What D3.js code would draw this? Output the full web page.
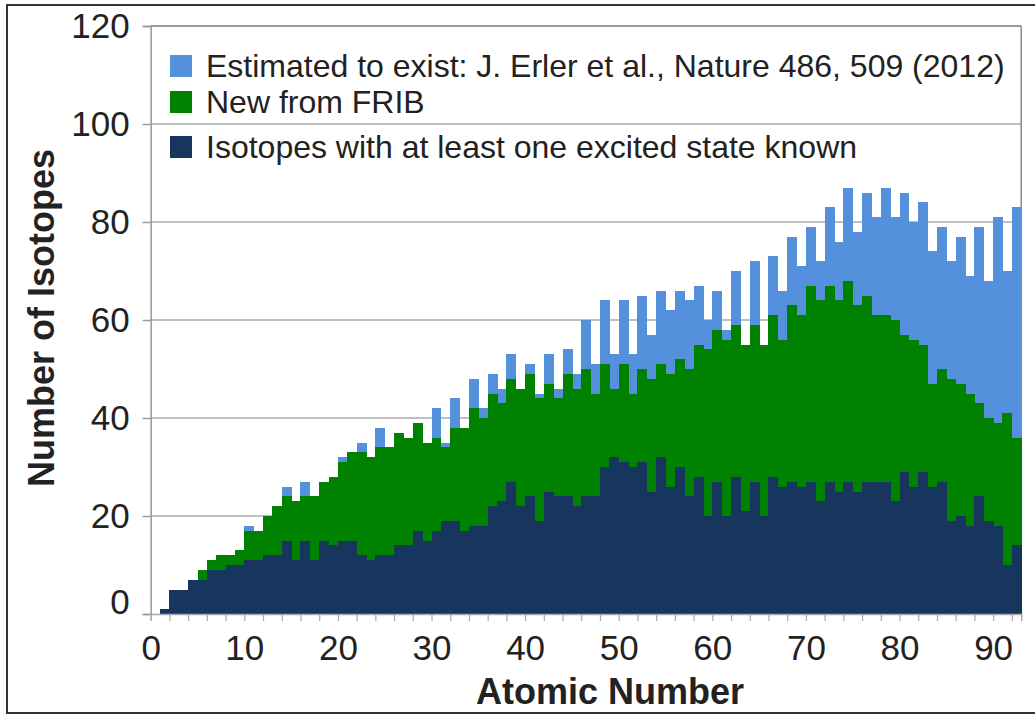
<!DOCTYPE html>
<html>
<head>
<meta charset="utf-8">
<script src="https://cdn.jsdelivr.net/npm/d3@7"></script>
<style>
	body { margin: 0; background: #fff; }
	text { font-family: "Liberation Sans", Arial, sans-serif; fill: #222; }
</style>
</head>
<body>
<div id="chart"></div>
<script>
// atomic numbers Z = 1..92
var atomicNumbers = [1, 2, 3, 4, 5, 6, 7, 8, 9, 10, 11, 12, 13, 14, 15, 16, 17, 18, 19, 20,
	21, 22, 23, 24, 25, 26, 27, 28, 29, 30, 31, 32, 33, 34, 35, 36, 37, 38, 39, 40,
	41, 42, 43, 44, 45, 46, 47, 48, 49, 50, 51, 52, 53, 54, 55, 56, 57, 58, 59, 60,
	61, 62, 63, 64, 65, 66, 67, 68, 69, 70, 71, 72, 73, 74, 75, 76, 77, 78, 79, 80,
	81, 82, 83, 84, 85, 86, 87, 88, 89, 90, 91, 92];

var estimated = [1, 5, 5, 7, 9, 11, 12, 12, 13, 18, 17, 20, 22, 26, 23, 27, 24, 27, 28, 32,
	33, 35, 32, 38, 34, 37, 36, 39, 35, 42, 35, 44, 38, 48, 42, 49, 46, 53, 46, 51,
	45, 53, 46, 54, 49, 60, 51, 64, 53, 64, 53, 65, 57, 66, 62, 66, 64, 67, 60, 66,
	58, 70, 55, 72, 55, 73, 66, 77, 71, 79, 72, 83, 76, 87, 78, 86, 81, 87, 81, 86,
	80, 84, 74, 79, 72, 77, 69, 79, 68, 81, 70, 83];

var frib = [1, 5, 5, 7, 9, 11, 12, 12, 13, 17, 17, 20, 22, 24, 23, 24, 24, 27, 28, 31,
	33, 33, 32, 34, 34, 37, 36, 39, 35, 36, 34, 38, 38, 42, 40, 45, 43, 48, 46, 49,
	44, 47, 44, 49, 46, 50, 45, 51, 46, 51, 45, 50, 48, 51, 49, 52, 50, 55, 54, 58,
	56, 59, 55, 59, 55, 61, 56, 63, 61, 67, 64, 67, 64, 68, 63, 65, 61, 61, 60, 57,
	56, 55, 47, 50, 48, 47, 45, 43, 40, 39, 41, 36];

var excited = [1, 5, 5, 7, 7, 9, 9, 10, 10, 11, 11, 12, 12, 15, 11, 15, 11, 15, 14, 15,
	15, 12, 11, 12, 12, 14, 14, 17, 15, 17, 19, 19, 17, 18, 18, 22, 23, 27, 22, 24,
	19, 25, 24, 24, 22, 24, 24, 30, 32, 31, 30, 31, 25, 32, 26, 30, 24, 28, 20, 27,
	20, 28, 21, 27, 20, 28, 26, 27, 26, 27, 23, 27, 25, 27, 25, 27, 27, 27, 23, 29,
	26, 29, 26, 27, 19, 20, 18, 24, 19, 18, 10, 14];

var xTicks = [0, 10, 20, 30, 40, 50, 60, 70, 80, 90];
var yTicks = [0, 20, 40, 60, 80, 100, 120];

var series = [
	{name: "Estimated to exist: J. Erler et al., Nature 486, 509 (2012)", values: estimated, color: "#5590dc"},
	{name: "New from FRIB", values: frib, color: "#008200"},
	{name: "Isotopes with at least one excited state known", values: excited, color: "#17365e"}
];

var width = 1035, height = 715;

var svg = d3.select("#chart").append("svg")
	.attr("width", width)
	.attr("height", height);

// outer frame
svg.append("rect")
	.attr("x", 7).attr("y", 5)
	.attr("width", 1040).attr("height", 708)
	.attr("fill", "none")
	.attr("stroke", "#333")
	.attr("stroke-width", 2);

var x = d3.scaleLinear().domain([0, 93]).range([150.7, 1021.2]);
var y = d3.scaleLinear().domain([0, 120]).range([614, 26]);

// gridlines
svg.append("g")
	.selectAll("line")
	.data(yTicks.filter(d => d > 0))
	.enter()
	.append("line")
	.attr("x1", x(0)).attr("x2", x(93))
	.attr("y1", d => y(d)).attr("y2", d => y(d))
	.attr("stroke", d => d === 120 ? "#777" : "#aaa")
	.attr("stroke-width", 1.5);

// right border
svg.append("line")
	.attr("x1", x(93)).attr("x2", x(93))
	.attr("y1", y(120)).attr("y2", y(0))
	.attr("stroke", "#888")
	.attr("stroke-width", 1.5);

// bars
series.forEach(function(s) {
	svg.append("g")
		.attr("shape-rendering", "crispEdges")
		.selectAll("rect")
		.data(atomicNumbers)
		.enter()
		.append("rect")
		.attr("x", (z) => x(z))
		.attr("width", (z) => x(z + 1) - x(z) + 0.6)
		.attr("y", (z, i) => y(s.values[i]))
		.attr("height", (z, i) => y(0) - y(s.values[i]))
		.attr("fill", s.color);
});

// y axis
var yAxis = svg.append("g")
	.attr("transform", `translate(${x(0)}, 0)`)
	.call(d3.axisLeft(y).tickValues(yTicks).tickSize(8).tickPadding(13));
yAxis.select(".domain").attr("stroke", "#999").attr("stroke-width", 1.5);
yAxis.selectAll(".tick line").attr("stroke", "#999").attr("stroke-width", 1.5);
yAxis.selectAll(".tick text")
	.style("font-size", "35px")
	.style("font-family", "'Liberation Sans', Arial, sans-serif")
	.attr("fill", "#222")
	.attr("dy", d => d === 0 ? "-0.02em" : "0.32em");

// x axis
var xAxis = svg.append("g")
	.attr("transform", `translate(0, ${y(0)})`)
	.call(d3.axisBottom(x).tickValues(d3.range(0, 93, 2)).tickSize(7).tickPadding(14).tickFormat(d => xTicks.includes(d) ? d : ""));
xAxis.select(".domain").attr("stroke", "#aaa").attr("stroke-width", 1.5);
xAxis.selectAll(".tick line").attr("stroke", "#aaa").attr("stroke-width", 1.2);
xAxis.selectAll(".tick text")
	.style("font-size", "35px")
	.style("font-family", "'Liberation Sans', Arial, sans-serif")
	.attr("fill", "#222");

// axis titles
svg.append("text")
	.attr("x", 610).attr("y", 704)
	.attr("text-anchor", "middle")
	.style("font-size", "36px")
	.style("font-weight", "bold")
	.text("Atomic Number");

svg.append("text")
	.attr("transform", "translate(54, 318) rotate(-90)")
	.attr("text-anchor", "middle")
	.style("font-size", "36px")
	.style("font-weight", "bold")
	.text("Number of Isotopes");

// legend
var legendY = [66, 102, 147];
var legend = svg.append("g");
series.forEach(function(s, i) {
	legend.append("rect")
		.attr("x", 170).attr("y", legendY[i] - 11)
		.attr("width", 22).attr("height", 22)
		.attr("fill", s.color);
	legend.append("text")
		.attr("x", 206).attr("y", legendY[i] + 11)
		.style("font-size", "32px")
		.text(s.name);
});
</script>
</body>
</html>
